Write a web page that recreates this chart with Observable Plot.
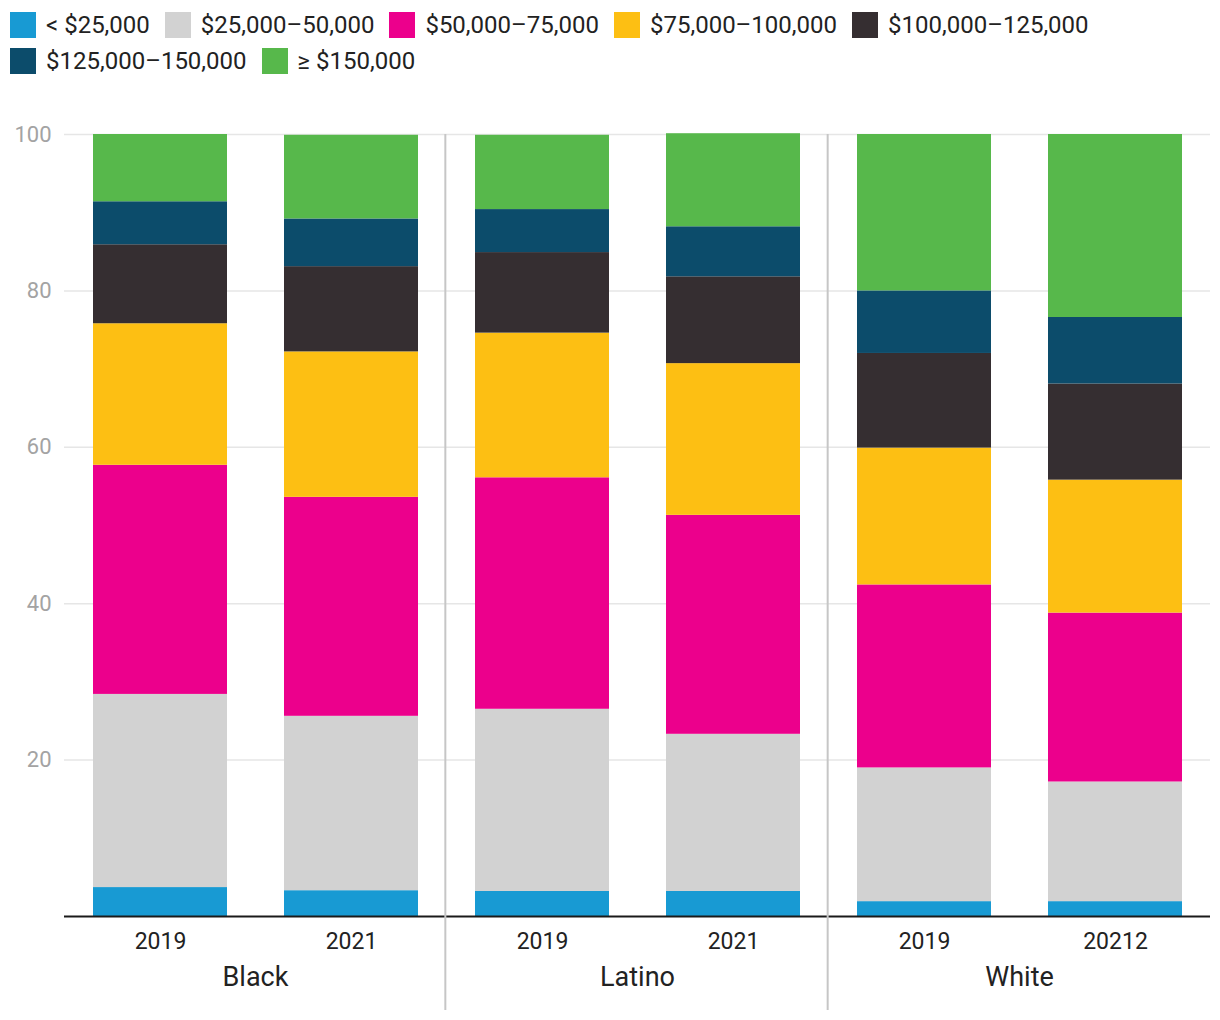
<!DOCTYPE html>
<html><head><meta charset="utf-8">
<script src="https://cdn.jsdelivr.net/npm/d3@7"></script>
<script src="https://cdn.jsdelivr.net/npm/@observablehq/plot@0.6"></script>
<style>
body{margin:0;background:#fff;font-family:Roboto,sans-serif;}
#legend{height:80px;box-sizing:border-box;padding:7px 0 0 10px;}
.lg-swatches{margin:0 !important;font-size:24px !important;font-family:Roboto,sans-serif !important;color:#222;}
.lg-swatch{margin-right:15px !important;height:36px;}
.lg-swatch > svg{margin-right:10px !important;}
</style></head><body>
<div id="legend"></div><div id="chart"></div>
<script>
// Bars (in order left to right)
const groups = ["Black", "Black", "Latino", "Latino", "White", "White"];
const periods = ["2019", "2021", "2019", "2021", "2019", "2021"];
const yearLabels = ["2019", "2021", "2019", "2021", "2019", "20212"];
const groupOrder = ["Black", "Latino", "White"];

// Income brackets (bottom to top) and colours
const brackets = ["< $25,000", "$25,000–50,000", "$50,000–75,000", "$75,000–100,000", "$100,000–125,000", "$125,000–150,000", "≥ $150,000"];
const colors = ["#189ad3", "#d2d2d2", "#ec008c", "#fdbf13", "#352e31", "#0c4c6b", "#57b84b"];

// Share (%) per bracket, one value per bar
const lt25     = [3.7, 3.3, 3.2, 3.2, 1.9, 1.9];
const r25_50   = [24.7, 22.3, 23.3, 20.1, 17.1, 15.3];
const r50_75   = [29.3, 28.0, 29.6, 28.0, 23.4, 21.6];
const r75_100  = [18.1, 18.6, 18.5, 19.4, 17.5, 17.0];
const r100_125 = [10.1, 10.9, 10.3, 11.1, 12.1, 12.3];
const r125_150 = [5.5, 6.1, 5.5, 6.4, 8.0, 8.5];
const ge150    = [8.6, 10.7, 9.5, 11.9, 20.0, 23.4];

const yTicks = [20, 40, 60, 80, 100];

const series = [lt25, r25_50, r50_75, r75_100, r100_125, r125_150, ge150];
const table = [];
groups.forEach((g, i) => brackets.forEach((b, j) => table.push({group: g, period: periods[i], bracket: b, value: series[j][i]})));
const bars = groups.map((g, i) => ({group: g, period: periods[i], label: yearLabels[i]}));

const legend = Plot.legend({
  color: {type: "ordinal", domain: brackets, range: colors},
  legend: "swatches", swatchSize: 26, className: "lg"
});
document.getElementById("legend").append(legend);

const chart = Plot.plot({
  width: 1220, height: 940,
  marginTop: 54, marginBottom: 104, marginLeft: 63, marginRight: 10,
  style: {fontFamily: "Roboto, sans-serif", background: "#fff"},
  fx: {domain: groupOrder, padding: 0, label: null, axis: null},
  x: {domain: ["2019", "2021"], paddingInner: 0.3, paddingOuter: 0.15, axis: null},
  y: {domain: [0, 100], axis: null},
  color: {domain: brackets, range: colors},
  marks: [
    Plot.gridY(yTicks, {stroke: "#e6e6e6", strokeOpacity: 1, strokeWidth: 1.5}),
    Plot.axisY(yTicks, {tickSize: 0, tickPadding: 13, fontSize: 22, color: "#a3a3a3", label: null}),
    Plot.barY(table, {fx: "group", x: "period", y: "value", fill: "bracket"}),
    Plot.ruleY([0], {stroke: "#1a1a1a", strokeWidth: 2}),
    Plot.text(bars, {fx: "group", x: "period", text: "label", frameAnchor: "bottom", lineAnchor: "top", dy: 16, fontSize: 23, fill: "#222"}),
    Plot.axisFx({anchor: "bottom", tickSize: 0, tickPadding: 50, fontSize: 27, color: "#222", label: null})
  ]
});
document.getElementById("chart").append(chart);

// group separators at facet boundaries, positioned from Plot's own scales
const fxs = chart.scale("fx");
const band = d3.scaleBand(fxs.domain, fxs.range)
  .paddingInner(fxs.paddingInner ?? 0).paddingOuter(fxs.paddingOuter ?? 0).align(fxs.align ?? 0.5);
const ys = chart.scale("y");
const yTop = Math.min(...ys.range);
const svg = d3.select(chart);
fxs.domain.slice(1).forEach(d => {
  svg.append("line")
    .attr("x1", band(d)).attr("x2", band(d))
    .attr("y1", yTop).attr("y2", 930)
    .attr("stroke", "#c6c6c6").attr("stroke-width", 2);
});
</script>
</body></html>
